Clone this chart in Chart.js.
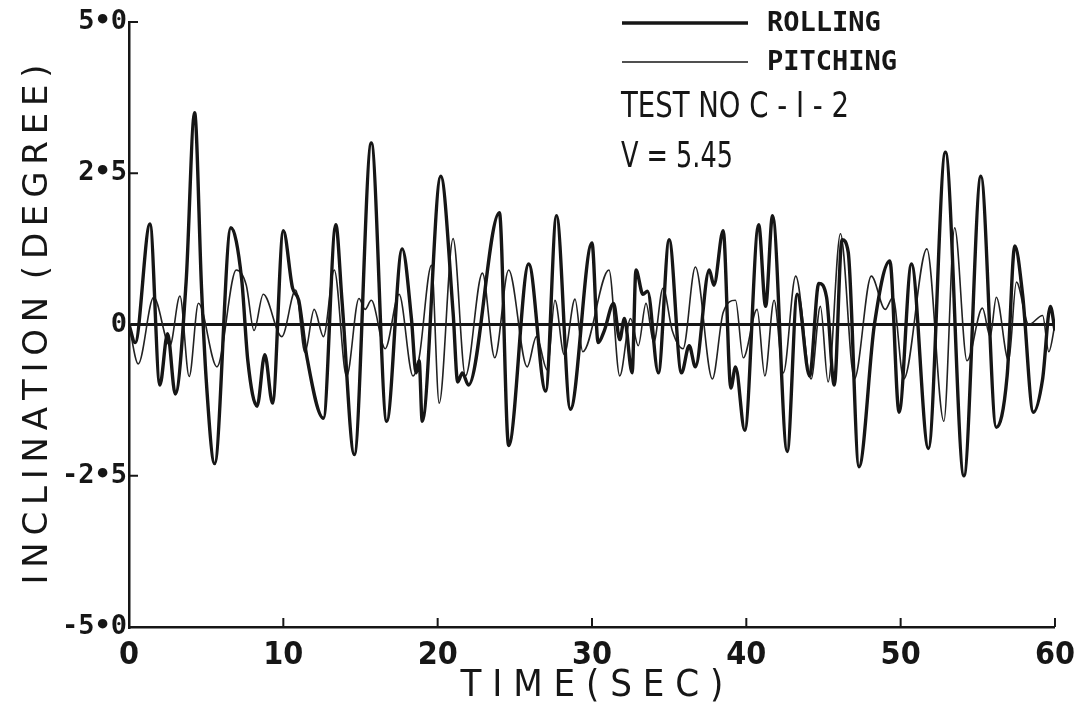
<!DOCTYPE html>
<html>
<head>
<meta charset="utf-8">
<title>Inclination - Test No C-I-2</title>
<script src="https://cdn.jsdelivr.net/npm/chart.js@4.4.1/dist/chart.umd.min.js"></script>
<style>
	html, body { margin: 0; padding: 0; background: #fff; }
	#wrap { width: 1084px; height: 709px; }
</style>
</head>
<body>
<div id="wrap"><canvas id="chart" width="1084" height="709"></canvas></div>
<script>
const rollTime = [
	0, 0.4, 1.36, 2.0, 2.5, 3.0, 3.7, 4.25, 4.7, 5.0, 5.55, 6.6, 7.3, 7.7, 8.3, 8.8, 9.3, 10.0,
	10.6, 11.0, 11.5, 12.6, 13.4, 13.8, 14.6, 15.7, 16.7, 17.7, 18.3, 18.6, 18.8, 19.0, 20.2,
	21.0, 21.3, 21.6, 22.0, 24.0, 24.6, 25.9, 27.0, 27.7, 28.6, 30.0, 30.4, 30.8, 31.4, 31.8,
	32.1, 32.6, 32.85, 33.3, 33.6, 34.3, 35.0, 35.8, 36.3, 36.7, 37.6, 37.9, 38.5, 39.0, 39.3,
	39.9, 40.8, 41.25, 41.7, 42.65, 43.3, 44.1, 44.7, 45.2, 45.7, 46.2, 46.6, 47.3, 48.3, 49.3,
	49.9, 50.7, 51.8, 52.9, 54.1, 55.2, 56.2, 56.9, 57.4, 57.9, 58.6, 59.2, 59.7, 60
];
const rollValue = [
	0, -0.3, 1.66, -1.0, -0.15, -1.15, 0.7, 3.5, 0.6, -0.9, -2.3, 1.6, 0.75, -0.6, -1.35, -0.5, -1.3, 1.55,
	0.6, 0.4, -0.5, -1.55, 1.65, 0.4, -2.15, 3.0, -1.6, 1.25, 0.1, -0.8, -0.6, -1.6, 2.45,
	0.2, -0.95, -0.8, -1.0, 1.85, -2.0, 1.0, -1.1, 1.8, -1.4, 1.35, -0.3, -0.1, 0.35, -0.25,
	0.1, -0.8, 0.9, 0.5, 0.55, -0.8, 1.4, -0.8, -0.35, -0.7, 0.9, 0.65, 1.55, -1.05, -0.7,
	-1.75, 1.65, 0.3, 1.8, -2.1, 0.5, -0.85, 0.68, 0.45, -1.0, 1.4, 1.2, -2.35, 0.0, 1.05,
	-1.45, 1.0, -2.05, 2.85, -2.5, 2.45, -1.7, -0.85, 1.3, 0.5, -1.45, -0.9, 0.3, -0.1
];
const pitchTime = [
	0, 0.6, 1.6, 2.65, 3.3, 3.9, 4.5, 5.7, 6.95, 7.6, 8.1, 8.7, 9.9, 10.8, 11.4, 12.0, 12.6,
	13.3, 14.1, 14.9, 15.3, 15.7, 16.6, 17.5, 18.4, 18.8, 19.6, 20.1, 21.0, 21.8, 22.9, 23.7,
	24.6, 25.8, 26.4, 27.1, 27.6, 28.2, 28.9, 29.4, 31.1, 31.8, 32.5, 33.0, 33.5, 34.0, 34.6,
	35.2, 35.9, 36.7, 37.8, 38.5, 39.3, 39.8, 40.7, 41.2, 41.8, 42.4, 43.2, 44.2, 44.8, 45.3,
	46.1, 47.0, 48.1, 49.0, 49.5, 50.2, 51.7, 52.8, 53.5, 54.3, 55.3, 55.8, 56.2, 57.0, 57.5,
	58.3, 59.2, 59.6, 60
];
const pitchValue = [
	0, -0.65, 0.45, -0.35, 0.47, -0.86, 0.35, -0.7, 0.9, 0.65, -0.1, 0.5, -0.2, 0.57, -0.46, 0.25, -0.2,
	0.9, -0.86, 0.43, 0.25, 0.4, -0.4, 0.5, -0.85, -0.55, 0.98, -1.3, 1.42, -0.85, 0.85, -0.55,
	0.9, -0.7, -0.2, -0.75, 0.4, -0.5, 0.42, -0.45, 0.9, -0.85, 0.1, -0.35, 0.35, -0.3, 0.6,
	-0.1, -0.4, 0.95, -0.9, 0.2, 0.4, -0.55, 0.25, -0.85, 0.4, -0.8, 0.8, -0.9, 0.3, -0.95,
	1.5, -0.9, 0.8, 0.25, 0.45, -0.9, 1.25, -1.6, 1.6, -0.6, 0.27, -0.2, 0.45, -0.6, 0.7,
	0.0, 0.15, -0.45, 0.0
];
const xTicks = [0, 10, 20, 30, 40, 50, 60];
const yTicks = [-5, -2.5, 0, 2.5, 5];
const yTickLabels = ['-5\u20220', '-2\u20225', '0', '2\u20225', '5\u20220'];
const seriesNames = ['ROLLING', 'PITCHING'];
const noteLines = ['TEST NO C - I - 2', 'V = 5.45'];
const xTitle = 'T I M E ( S E C )';
const yTitle = 'I\u2009N\u2009C\u2009L\u2009I\u2009N\u2009A\u2009T\u2009I\u2009O\u2009N \u2009(\u2009D\u2009E\u2009G\u2009R\u2009E\u2009E\u2009)';

const INK = '#161616';

function toPoints(times, values) {
	return times.map((t, i) => ({ x: t, y: values[i] }));
}

const inwardTicks = {
	id: 'inwardTicks',
	afterDatasetsDraw(chart) {
		const { ctx, chartArea, scales } = chart;
		ctx.save();
		ctx.strokeStyle = INK;
		ctx.lineWidth = 2;
		yTicks.forEach((v) => {
			const py = scales.y.getPixelForValue(v);
			ctx.beginPath();
			ctx.moveTo(chartArea.left, py);
			ctx.lineTo(chartArea.left + 9, py);
			ctx.stroke();
		});
		xTicks.forEach((v) => {
			const px = scales.x.getPixelForValue(v);
			ctx.beginPath();
			ctx.moveTo(px, chartArea.bottom);
			ctx.lineTo(px, chartArea.bottom - 9);
			ctx.stroke();
		});
		ctx.restore();
	}
};

const plotterLegend = {
	id: 'plotterLegend',
	afterDraw(chart) {
		const { ctx } = chart;
		const rows = [23, 62];
		ctx.save();
		ctx.fillStyle = INK;
		ctx.strokeStyle = INK;
		ctx.textBaseline = 'middle';
		ctx.textAlign = 'left';
		chart.data.datasets.forEach((ds, i) => {
			ctx.lineWidth = ds.borderWidth;
			ctx.beginPath();
			ctx.moveTo(622, rows[i]);
			ctx.lineTo(748, rows[i]);
			ctx.stroke();
			ctx.font = 'bold 27px "DejaVu Sans Mono", monospace';
			ctx.fillText(seriesNames[i], 767, rows[i] + 1);
		});
		ctx.font = '36px "Liberation Sans Narrow", "DejaVu Sans Condensed", sans-serif';
		ctx.fillText(noteLines[0], 621, 108, 228);
		ctx.fillText(noteLines[1], 621, 158, 112);
		ctx.restore();
	}
};

const ctx = document.getElementById('chart').getContext('2d');
new Chart(ctx, {
	type: 'line',
	data: {
		datasets: [
			{
				label: seriesNames[0],
				data: toPoints(rollTime, rollValue),
				borderColor: INK,
				borderWidth: 3.4,
				pointRadius: 0,
				cubicInterpolationMode: 'monotone'
			},
			{
				label: seriesNames[1],
				data: toPoints(pitchTime, pitchValue),
				borderColor: '#222',
				borderWidth: 1.6,
				pointRadius: 0,
				cubicInterpolationMode: 'monotone'
			}
		]
	},
	options: {
		responsive: false,
		animation: false,
		devicePixelRatio: 1,
		layout: { padding: { top: 22, right: 26, left: 0, bottom: 0 } },
		plugins: {
			legend: { display: false },
			tooltip: { enabled: false }
		},
		scales: {
			x: {
				type: 'linear',
				min: 0,
				max: 60,
				afterBuildTicks: (scale) => { scale.ticks = xTicks.map((v) => ({ value: v })); },
				afterFit: (scale) => { scale.height = 82; },
				border: { color: INK, width: 2.5 },
				grid: { display: false, drawTicks: false },
				ticks: {
					color: INK,
					padding: 9,
					maxRotation: 0,
					font: { family: '"Liberation Sans Narrow", "DejaVu Sans Condensed", sans-serif', size: 32, weight: 'bold' }
				},
				title: {
					display: true,
					text: xTitle,
					color: INK,
					padding: { top: 0, bottom: 0 },
					font: { family: '"Liberation Sans Narrow", "DejaVu Sans Condensed", sans-serif', size: 38 }
				}
			},
			y: {
				min: -5,
				max: 5,
				afterBuildTicks: (scale) => { scale.ticks = yTicks.map((v) => ({ value: v })); },
				afterFit: (scale) => { scale.width = 129; },
				border: { color: INK, width: 2.5 },
				grid: {
					drawTicks: false,
					lineWidth: 3,
					color: (c) => (c.tick && c.tick.value === 0 ? INK : 'rgba(0,0,0,0)')
				},
				ticks: {
					color: INK,
					padding: 2,
					font: { family: '"DejaVu Sans Mono", monospace', size: 27, weight: 'bold' },
					callback: (v) => yTickLabels[yTicks.indexOf(v)]
				},
				title: {
					display: true,
					text: yTitle,
					color: INK,
					padding: { top: 18, bottom: 0 },
					font: { family: '"DejaVu Sans", sans-serif', size: 34 }
				}
			}
		}
	},
	plugins: [inwardTicks, plotterLegend]
});
</script>
</body>
</html>
